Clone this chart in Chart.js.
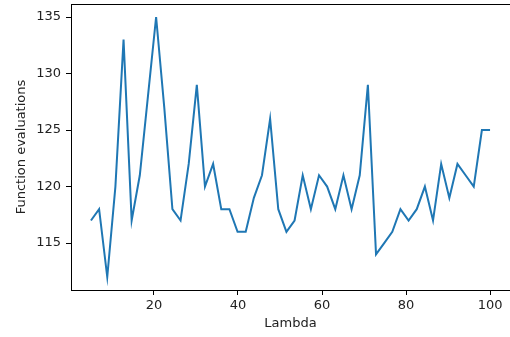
<!DOCTYPE html>
<html>
<head>
<meta charset="utf-8">
<script src="https://cdn.jsdelivr.net/npm/chart.js@4/dist/chart.umd.min.js"></script>
<style>
  html, body { margin: 0; padding: 0; background: #fff; }
  #wrap { width: 510px; height: 337px; }
</style>
</head>
<body>
<div id="wrap"><canvas id="evalChart" width="510" height="337"></canvas></div>
<script>
const lambdas = [
  5.00, 6.94, 8.88, 10.82, 12.76, 14.69, 16.63, 18.57, 20.51, 22.45,
  24.39, 26.33, 28.27, 30.20, 32.14, 34.08, 36.02, 37.96, 39.90, 41.84,
  43.78, 45.71, 47.65, 49.59, 51.53, 53.47, 55.41, 57.35, 59.29, 61.22,
  63.16, 65.10, 67.04, 68.98, 70.92, 72.86, 74.80, 76.73, 78.67, 80.61,
  82.55, 84.49, 86.43, 88.37, 90.31, 92.24, 94.18, 96.12, 98.06, 100.00
];
const evaluations = [
  117, 118, 112, 120, 133, 117, 121, 128, 135, 127,
  118, 117, 122, 129, 120, 122, 118, 118, 116, 116,
  119, 121, 126, 118, 116, 117, 121, 118, 121, 120,
  118, 121, 118, 121, 129, 114, 115, 116, 118, 117,
  118, 120, 117, 122, 119, 122, 121, 120, 125, 125
];
const xTicks = [20, 40, 60, 80, 100];
const yTicks = [115, 120, 125, 130, 135];

const font = { family: 'DejaVu Sans', size: 13 };
const ink = '#222';

const ctx = document.getElementById('evalChart').getContext('2d');
new Chart(ctx, {
  type: 'line',
  data: {
    datasets: [{
      data: lambdas.map((x, i) => ({ x: x, y: evaluations[i] })),
      borderColor: '#1f77b4',
      borderWidth: 2,
      pointRadius: 0,
      tension: 0,
      fill: false
    }]
  },
  options: {
    responsive: false,
    animation: false,
    layout: { padding: 0 },
    plugins: { legend: { display: false }, tooltip: { enabled: false } },
    scales: {
      x: {
        type: 'linear',
        min: 0.25,
        max: 104.75,
        afterFit: s => { s.height = 47; s.paddingLeft = 0; s.paddingRight = 0; },
        afterBuildTicks: s => { s.ticks = xTicks.map(v => ({ value: v })); },
        grid: { drawOnChartArea: false, drawTicks: true, tickLength: 5, color: '#000' },
        border: { display: true, color: '#000', width: 1 },
        ticks: { font: font, color: ink, padding: 3, maxRotation: 0 },
        title: { display: true, text: 'Lambda', font: font, color: ink, padding: { top: 0, bottom: 6 } }
      },
      // empty axis on top, only there for its border line
      xTop: {
        type: 'linear',
        position: 'top',
        min: 0.25,
        max: 104.75,
        afterFit: s => { s.height = 4; s.paddingLeft = 0; s.paddingRight = 0; },
        grid: { drawOnChartArea: false, drawTicks: false },
        border: { display: true, color: '#000', width: 1 },
        ticks: { display: false }
      },
      y: {
        type: 'linear',
        min: 110.85,
        max: 136.15,
        afterFit: s => { s.width = 71; s.paddingTop = 0; s.paddingBottom = 0; },
        afterBuildTicks: s => { s.ticks = yTicks.map(v => ({ value: v })); },
        grid: { drawOnChartArea: false, drawTicks: true, tickLength: 5, color: '#000' },
        border: { display: true, color: '#000', width: 1 },
        ticks: { font: font, color: ink, padding: 5 },
        title: { display: true, text: 'Function evaluations', font: font, color: ink, padding: { top: 14, bottom: 0 } }
      }
    }
  }
});
</script>
</body>
</html>
